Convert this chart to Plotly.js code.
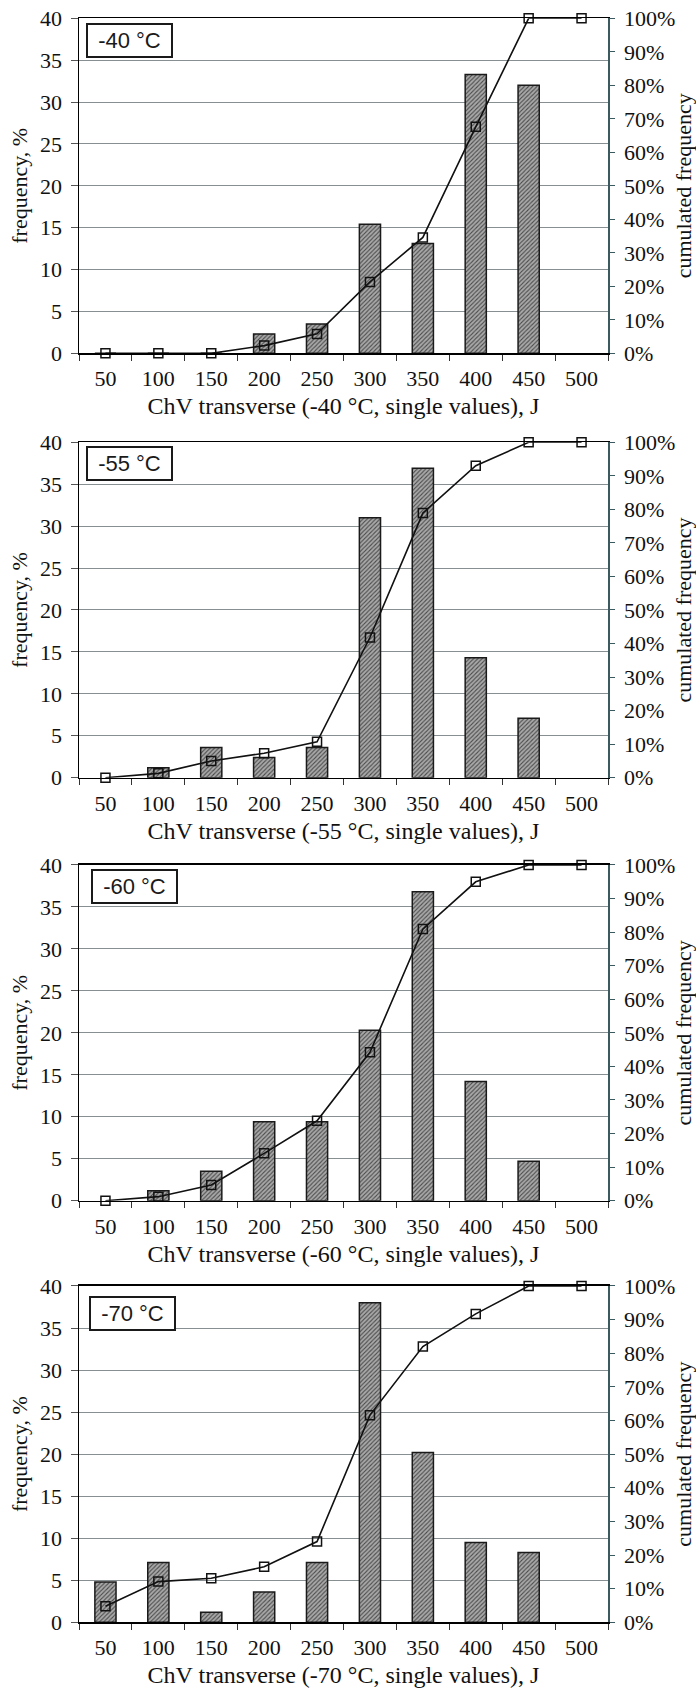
<!DOCTYPE html>
<html>
<head>
<meta charset="utf-8">
<script src="https://cdn.plot.ly/plotly-3.0.1.min.js"></script>
<style>html,body{margin:0;padding:0;background:#fff;}#chart{width:696px;height:1695px;}</style>
</head>
<body>
<div id="chart"></div>
<script>
// ---- data ----
const categories = ['50','100','150','200','250','300','350','400','450','500'];
const panelLabels = ['-40 °C', '-55 °C', '-60 °C', '-70 °C'];
const xTitles = [
  'ChV transverse (-40 °C, single values), J',
  'ChV transverse (-55 °C, single values), J',
  'ChV transverse (-60 °C, single values), J',
  'ChV transverse (-70 °C, single values), J'
];
const yTitleLeft = 'frequency, %';
const yTitleRight = 'cumulated frequency';

// frequency, % (bars)
const freq40 = [0, 0, 0, 2.3, 3.5, 15.4, 13.1, 33.3, 32.0, null];
const freq55 = [null, 1.2, 3.6, 2.4, 3.6, 31.0, 36.9, 14.3, 7.1, null];
const freq60 = [null, 1.2, 3.5, 9.4, 9.4, 20.3, 36.8, 14.2, 4.7, null];
const freq70 = [4.8, 7.1, 1.2, 3.6, 7.1, 38.0, 20.2, 9.5, 8.3, null];

// cumulated frequency, % (line)
const cum40 = [0, 0, 0, 2.3, 5.8, 21.3, 34.6, 67.6, 100, 100];
const cum55 = [0, 1.3, 5.0, 7.3, 10.7, 41.8, 78.9, 93.0, 100, 100];
const cum60 = [0, 1.2, 4.7, 14.1, 23.8, 44.2, 80.9, 95.0, 100, 100];
const cum70 = [4.8, 12.1, 13.1, 16.5, 24.0, 61.6, 82.0, 91.7, 100, 100];

const freqs = [freq40, freq55, freq60, freq70];
const cums = [cum40, cum55, cum60, cum70];

// ---- styling / layout ----
const serif = 'Liberation Serif, Times New Roman, serif';
const sans = 'Liberation Sans, Arial, sans-serif';
const domains = [
  [0.79156, 0.98920],
  [0.54118, 0.73906],
  [0.29162, 0.48968],
  [0.04289, 0.24130]
];
const labelPos = [
  {x: 0.013, y: 0.986},
  {x: 0.014, y: 0.989},
  {x: 0.022, y: 0.987},
  {x: 0.019, y: 0.970}
];

const traces = [];
const layout = {
  width: 696, height: 1695,
  margin: {l: 79, r: 88, t: 0, b: 0},
  paper_bgcolor: '#ffffff', plot_bgcolor: '#ffffff',
  showlegend: false,
  bargap: 0.6,
  annotations: []
};

for (let i = 0; i < 4; i++) {
  const xn = i === 0 ? '' : String(i + 1);
  const yl = 2 * i + 1, yr = 2 * i + 2;
  const ylName = yl === 1 ? '' : String(yl);
  const yrName = String(yr);

  traces.push({
    type: 'bar', x: categories, y: freqs[i],
    xaxis: 'x' + xn, yaxis: 'y' + ylName,
    marker: {
      color: '#9a9a9a',
      line: {color: '#1a1a1a', width: 1.5},
      pattern: {shape: '/', fillmode: 'replace', bgcolor: '#a9a9a9', fgcolor: '#4a4a4a', size: 3, solidity: 0.35}
    },
    hoverinfo: 'x+y'
  });
  traces.push({
    type: 'scatter', mode: 'lines+markers', x: categories, y: cums[i],
    xaxis: 'x' + xn, yaxis: 'y' + yrName,
    line: {color: '#111111', width: 1.6},
    marker: {symbol: 'square-open', size: 9, color: '#111111', line: {width: 1.5, color: '#111111'}},
    cliponaxis: false
  });

  layout['xaxis' + xn] = {
    domain: [0, 1], anchor: 'y' + ylName, type: 'category',
    range: [-0.5, 9.5],
    showline: true, linecolor: '#000000', linewidth: 1.5, mirror: true,
    ticks: 'outside', tickson: 'boundaries', ticklen: 6, tickcolor: '#333333', tickwidth: 1,
    showgrid: false, zeroline: false,
    ticklabelstandoff: 5,
    tickfont: {family: serif, size: 22, color: '#111111'},
    title: {text: xTitles[i], font: {family: serif, size: 24, color: '#111111'}, standoff: 7}
  };
  layout['yaxis' + ylName] = {
    domain: domains[i], anchor: 'x' + xn,
    range: [0, 40], dtick: 5, tick0: 0,
    showline: true, linecolor: '#000000', linewidth: 1.5,
    ticks: 'outside', ticklen: 7, tickcolor: '#555555',
    showgrid: true, gridcolor: '#878f92', gridwidth: 1,
    zeroline: false,
    ticklabelstandoff: 4,
    tickfont: {family: serif, size: 22, color: '#111111'},
    title: {text: yTitleLeft, font: {family: serif, size: 22, color: '#111111'}, standoff: 6}
  };
  layout['yaxis' + yrName] = {
    overlaying: 'y' + ylName, anchor: 'x' + xn, side: 'right',
    range: [0, 100], dtick: 10, tick0: 0, ticksuffix: '%',
    showline: true, linecolor: '#3b5a60', linewidth: 1.5,
    ticks: 'outside', ticklen: 5, tickcolor: '#3b5a60',
    showgrid: false, zeroline: false,
    ticklabelstandoff: 5,
    tickfont: {family: serif, size: 22, color: '#111111'},
    title: {text: yTitleRight, font: {family: serif, size: 22, color: '#111111'}, standoff: 4}
  };

  layout.annotations.push({
    text: panelLabels[i], showarrow: false,
    xref: 'x' + xn + ' domain', yref: 'y' + ylName + ' domain',
    x: labelPos[i].x, y: labelPos[i].y, xanchor: 'left', yanchor: 'top',
    width: 79, height: 27, align: 'center', valign: 'middle',
    bordercolor: '#1a1a1a', borderwidth: 2, borderpad: 2, bgcolor: '#ffffff',
    font: {family: sans, size: 22, color: '#1a1a1a'}
  });
}

Plotly.newPlot('chart', traces, layout, {displayModeBar: false, staticPlot: true});
</script>
</body>
</html>
